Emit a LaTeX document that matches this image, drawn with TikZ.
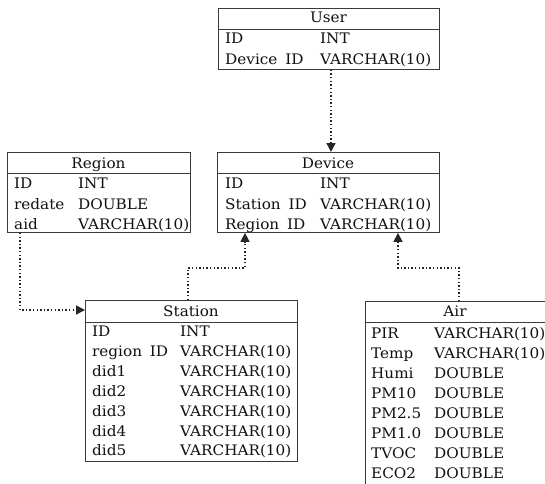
\documentclass[tikz,border=0pt]{standalone}
\usepackage{fontspec}
\setmainfont{DejaVu Serif}[FakeStretch=1.05]
\usetikzlibrary{arrows.meta}
\definecolor{bord}{HTML}{3A3A3A}
\definecolor{txt}{HTML}{111111}
\newcommand{\gapsp}{\ \hspace{3pt}}
\tikzset{
  tbl/.style={draw=bord, line width=0.9pt, anchor=north west, inner sep=0pt, fill=none},
  hline/.style={draw=bord, line width=0.9pt},
  cell/.style={anchor=base west, inner sep=0pt, text=txt, font=\fontsize{14.5}{16}\selectfont},
  head/.style={anchor=base, inner sep=0pt, text=txt, font=\fontsize{14.5}{16}\selectfont},
  conn/.style={draw=black!85, line width=1.5pt, dash pattern=on 1.4pt off 2.2pt, -{Triangle[length=9pt,width=9pt]}},
}
\begin{document}
\begin{tikzpicture}[x=1pt,y=1pt]
\useasboundingbox (0,0) rectangle (545,483);
\clip (0,0) rectangle (545,483);
\fill[white] (0,0) rectangle (545,483);
% tables
\node[tbl, minimum width=221pt, minimum height=61pt] (user) at (218,475) {};
\node[tbl, minimum width=183pt, minimum height=80pt] (region) at (7,331) {};
\node[tbl, minimum width=222pt, minimum height=80pt] (device) at (217,331) {};
\node[tbl, minimum width=212pt, minimum height=161pt] (station) at (85,183) {};
\node[tbl, minimum width=240pt, minimum height=230pt] (air) at (365,182) {};
% header lines
\draw[hline] ([yshift=-21pt]user.north west) -- ([yshift=-21pt]user.north east);
\draw[hline] ([yshift=-21pt]region.north west) -- ([yshift=-21pt]region.north east);
\draw[hline] ([yshift=-21pt]device.north west) -- ([yshift=-21pt]device.north east);
\draw[hline] ([yshift=-22pt]station.north west) -- ([yshift=-22pt]station.north east);
\draw[hline] ([yshift=-21pt]air.north west) -- ([yshift=-21pt]air.north east);
% headers
\node[head] (userh) at (328.5,460) {User};
\node[head] (regionh) at (98.5,315) {Region};
\node[head] (deviceh) at (328,315) {Device};
\node[head] (stationh) at (191,167) {Station};
\node[head] (airh) at (455,167) {Air};
% User rows
\node[cell] (u1n) at (225,439) {ID};
\node[cell] (u1t) at (320,439) {INT};
\node[cell] (u2n) at (225,418.5) {Device\gapsp ID};
\node[cell] (u2t) at (320,418.5) {VARCHAR(10)};
% Region rows
\node[cell] (r1n) at (14,295) {ID};
\node[cell] (r1t) at (78,295) {INT};
\node[cell] (r2n) at (14,274) {redate};
\node[cell] (r2t) at (78,274) {DOUBLE};
\node[cell] (r3n) at (14,254) {aid};
\node[cell] (r3t) at (78,254) {VARCHAR(10)};
% Device rows
\node[cell] (d1n) at (225,295) {ID};
\node[cell] (d1t) at (320,295) {INT};
\node[cell] (d2n) at (225,274) {Station\gapsp ID};
\node[cell] (d2t) at (320,274) {VARCHAR(10)};
\node[cell] (d3n) at (225,254) {Region\gapsp ID};
\node[cell] (d3t) at (320,254) {VARCHAR(10)};
% Station rows
\foreach \n/\t [count=\i from 0] in {ID/INT, region\gapsp ID/VARCHAR(10), did1/VARCHAR(10), did2/VARCHAR(10), did3/VARCHAR(10), did4/VARCHAR(10), did5/VARCHAR(10)}{
  \node[cell] (s\i n) at (92,{146.5-19.9*\i}) {\n};
  \node[cell] (s\i t) at (180,{146.5-19.9*\i}) {\t};
}
% Air rows
\foreach \n/\t [count=\i from 0] in {PIR/VARCHAR(10), Temp/VARCHAR(10), Humi/DOUBLE, PM10/DOUBLE, PM2.5/DOUBLE, PM1.0/DOUBLE, TVOC/DOUBLE, ECO2/DOUBLE}{
  \node[cell] (a\i n) at (371,{145-20*\i}) {\n};
  \node[cell] (a\i t) at (434,{145-20*\i}) {\t};
}
% connectors
\draw[conn] ([xshift=113pt]user.south west) -- ([xshift=114pt]device.north west);
\draw[conn] ([xshift=13pt]region.south west) |- ([yshift=-10pt]station.north west);
\draw[conn] ([xshift=103pt]station.north west) -- ++(0,32) -| ([xshift=28pt]device.south west);
\draw[conn] ([xshift=94pt]air.north west) -- ++(0,33) -| ([xshift=181pt]device.south west);
\end{tikzpicture}
\end{document}
